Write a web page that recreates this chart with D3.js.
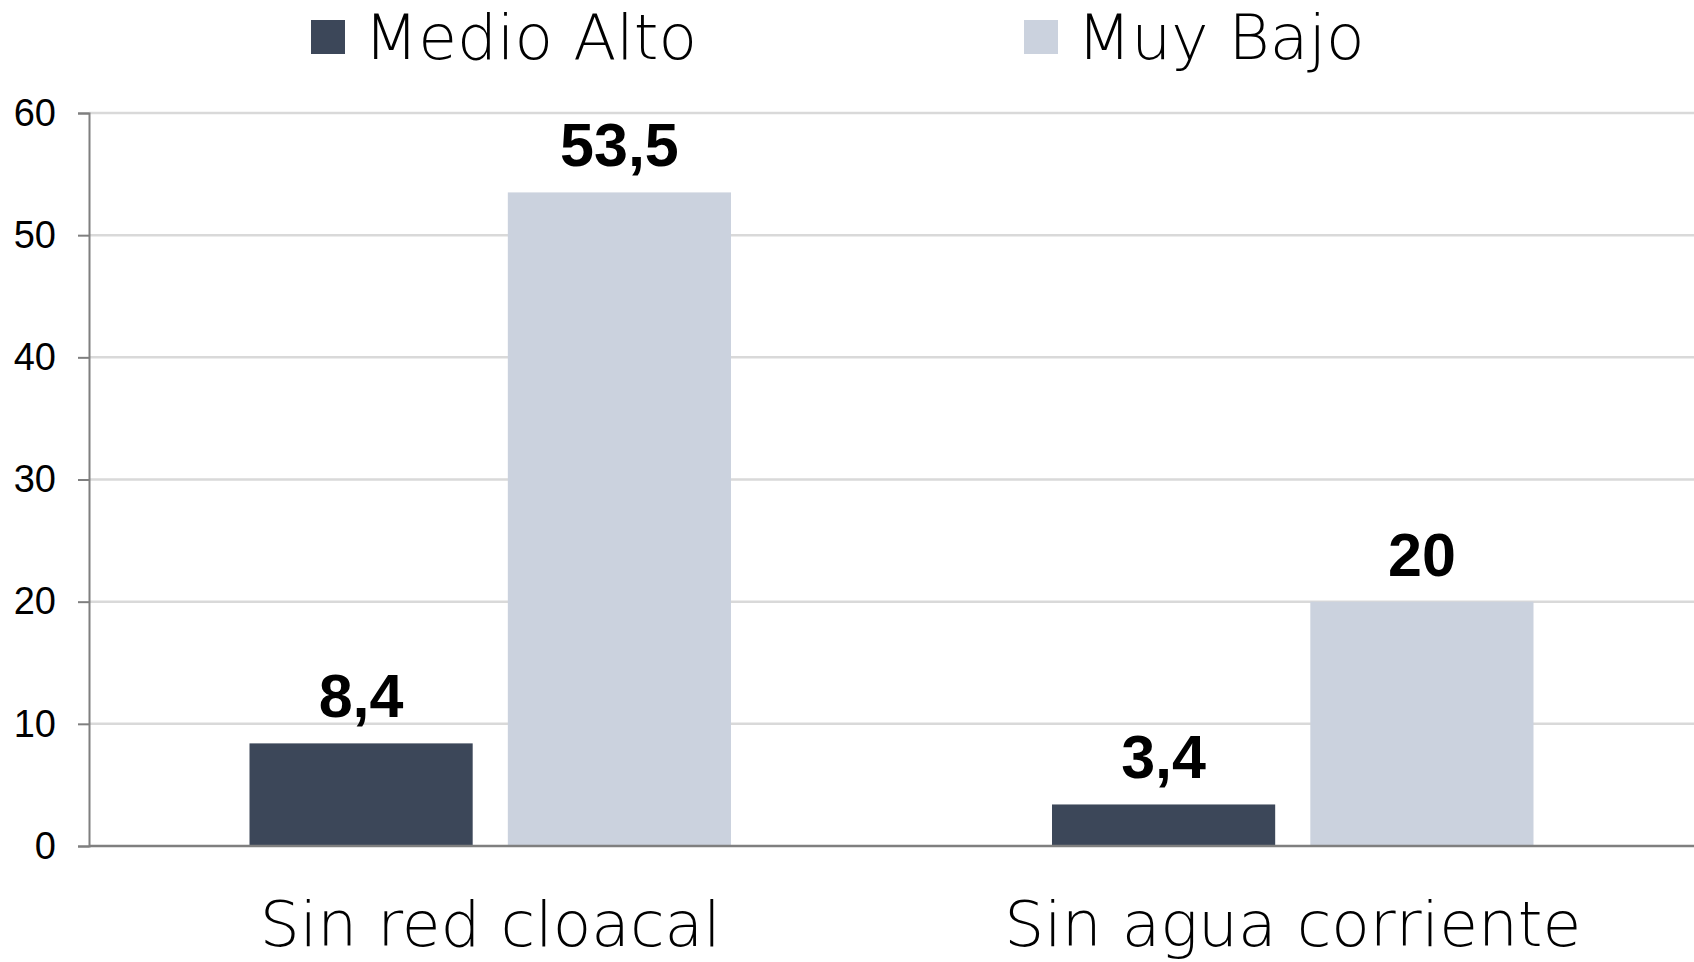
<!DOCTYPE html>
<html>
<head>
<meta charset="utf-8">
<script src="https://cdn.jsdelivr.net/npm/d3@7"></script>
<style>
  html, body { margin: 0; padding: 0; background: #fff; }
  svg { display: block; }
</style>
</head>
<body>
<div id="chart"></div>
<script>
// Data
const categories = ['Sin red cloacal', 'Sin agua corriente'];
const seriesNames = ['Medio Alto', 'Muy Bajo'];
const medioAlto = [8.4, 3.4];
const muyBajo = [53.5, 20];
const yTicks = [0, 10, 20, 30, 40, 50, 60];
const seriesColors = ['#3c4759', '#cbd2de'];

const W = 1694, H = 962;
const margin = { top: 113, right: 0, bottom: 116, left: 89 };
const lightFont = 'DejaVu Sans, Liberation Sans, sans-serif';

const svg = d3.select('#chart').append('svg')
  .attr('width', W)
  .attr('height', H);

const y = d3.scaleLinear()
  .domain([0, 60])
  .range([H - margin.bottom, margin.top]);

const x0 = d3.scaleBand()
  .domain(categories)
  .range([margin.left, W - margin.right]);

const x1 = d3.scaleBand()
  .domain(seriesNames)
  .range([x0.bandwidth() * 0.2, x0.bandwidth() * 0.8])
  .paddingInner(0.136);

// Grid lines
svg.append('g')
  .selectAll('line')
  .data(yTicks.filter(d => d > 0))
  .enter()
  .append('line')
  .attr('x1', margin.left)
  .attr('x2', W - margin.right)
  .attr('y1', d => y(d))
  .attr('y2', d => y(d))
  .attr('stroke', '#d9d9d9')
  .attr('stroke-width', 2.5);

// Bars
const rows = categories.map((c, i) => ({ cat: c, values: [medioAlto[i], muyBajo[i]] }));

const groups = svg.append('g')
  .selectAll('g')
  .data(rows)
  .enter()
  .append('g')
  .attr('transform', d => `translate(${x0(d.cat)},0)`);

groups.selectAll('rect')
  .data(d => d.values.map((v, i) => ({ name: seriesNames[i], v, i })))
  .enter()
  .append('rect')
  .attr('x', d => x1(d.name))
  .attr('y', d => y(d.v))
  .attr('width', x1.bandwidth())
  .attr('height', d => y(0) - y(d.v))
  .attr('fill', d => seriesColors[d.i]);

// Value labels
groups.selectAll('text')
  .data(d => d.values.map((v, i) => ({ name: seriesNames[i], v, i })))
  .enter()
  .append('text')
  .attr('x', d => x1(d.name) + x1.bandwidth() / 2)
  .attr('y', d => y(d.v) - 26)
  .attr('text-anchor', 'middle')
  .attr('font-family', 'Liberation Sans, Arial, sans-serif')
  .attr('font-weight', 'bold')
  .attr('font-size', '61px')
  .attr('fill', '#000')
  .text(d => String(d.v).replace('.', ','));

// Y axis
const yAxis = svg.append('g')
  .attr('transform', `translate(${margin.left},0)`)
  .call(d3.axisLeft(y).tickValues(yTicks).tickSize(11).tickPadding(22));

yAxis.select('.domain').attr('stroke', '#7f7f7f').attr('stroke-width', 2);
yAxis.selectAll('.tick line').attr('stroke', '#7f7f7f').attr('stroke-width', 2);
yAxis.selectAll('.tick text')
  .attr('font-family', 'Liberation Sans Narrow, Liberation Sans, Arial, sans-serif')
  .attr('font-size', '38px')
  .attr('fill', '#000');

// X axis baseline
svg.append('line')
  .attr('x1', margin.left)
  .attr('x2', W - margin.right)
  .attr('y1', y(0))
  .attr('y2', y(0))
  .attr('stroke', '#7f7f7f')
  .attr('stroke-width', 2.5);

// Category labels
svg.append('g')
  .selectAll('text')
  .data(categories)
  .enter()
  .append('text')
  .attr('x', d => x0(d) + x0.bandwidth() / 2)
  .attr('y', 946)
  .attr('text-anchor', 'middle')
  .attr('font-family', lightFont)
  .attr('font-weight', 200)
  .attr('font-size', '63px')
  .attr('fill', '#000')
  .text(d => d);

// Legend
const legendX = [311, 1024];
const legend = svg.append('g')
  .selectAll('g')
  .data(seriesNames)
  .enter()
  .append('g')
  .attr('transform', (d, i) => `translate(${legendX[i]},20)`);

legend.append('rect')
  .attr('width', 34)
  .attr('height', 34)
  .attr('fill', (d, i) => seriesColors[i]);

legend.append('text')
  .attr('x', 53)
  .attr('y', 39)
  .attr('font-family', lightFont)
  .attr('font-weight', 200)
  .attr('font-size', '63px')
  .attr('fill', '#000')
  .text(d => d);
</script>
</body>
</html>
